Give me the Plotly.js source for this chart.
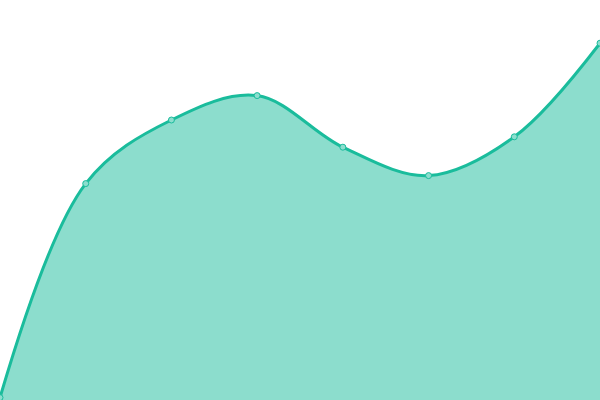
<!DOCTYPE html>
<html>
<head>
<meta charset="utf-8">
<script src="https://cdn.plot.ly/plotly-3.0.1.min.js"></script>
<style>
  html, body { margin: 0; padding: 0; background: #fff; }
  #chart { width: 600px; height: 400px; }
</style>
</head>
<body>
<div id="chart"></div>
<script>
var xValues = [0, 1, 2, 3, 4, 5, 6, 7];
var yValues = [0.6, 54.1, 70, 76.1, 63.2, 56.1, 65.8, 89.2];

var trace = {
    x: xValues,
    y: yValues,
    type: 'scatter',
    mode: 'lines+markers',
    fill: 'tozeroy',
    fillcolor: 'rgba(26,188,156,0.5)',
    line: {
        color: 'rgb(26,188,156)',
        width: 3,
        shape: 'spline',
        smoothing: 1
    },
    marker: {
        size: 6,
        color: 'rgb(140,222,206)',
        line: { color: 'rgb(26,188,156)', width: 1 }
    },
    cliponaxis: true,
    hoverinfo: 'none'
};

var layout = {
    width: 600,
    height: 400,
    margin: { l: 0, r: 0, t: 0, b: 0 },
    showlegend: false,
    paper_bgcolor: '#fff',
    plot_bgcolor: '#fff',
    xaxis: { range: [0, 7], visible: false, fixedrange: true },
    yaxis: { range: [0, 100], visible: false, fixedrange: true }
};

Plotly.newPlot('chart', [trace], layout, { staticPlot: true, displayModeBar: false });
</script>
</body>
</html>
